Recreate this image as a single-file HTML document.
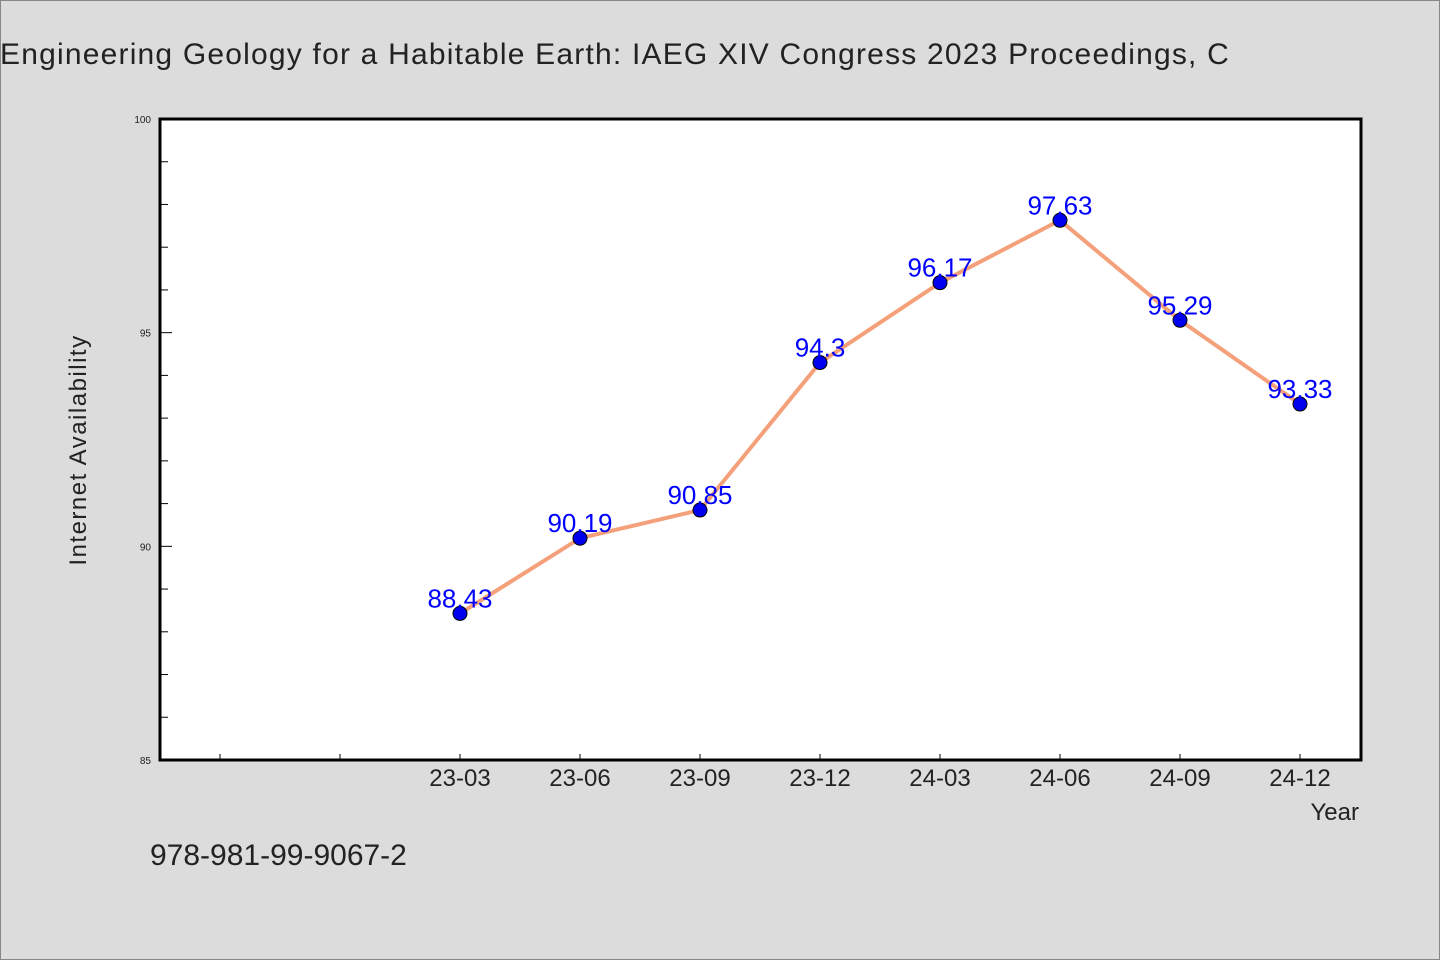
<!DOCTYPE html>
<html><head><meta charset="utf-8"><style>
body{margin:0;background:#dcdcdc;}
svg{display:block;font-family:"WenQuanYi Zen Hei","Liberation Sans",sans-serif;}
</style></head><body>
<svg id="chart" width="1440" height="960">
<rect x="0.5" y="0.5" width="1439" height="959" fill="#dcdcdc" stroke="#888"/>
<text x="0" y="64" font-size="30" fill="#222" letter-spacing="1.2">Engineering Geology for a Habitable Earth: IAEG XIV Congress 2023 Proceedings, C</text>
<rect x="160" y="119" width="1201" height="641" fill="#fff"/>
<g id="yticks"></g><g id="xticks"></g>
<rect x="160" y="119" width="1201" height="641" fill="none" stroke="#000" stroke-width="3"/>
<g id="series"></g>
<text transform="translate(86,450) rotate(-90)" text-anchor="middle" font-size="24" fill="#222" letter-spacing="1.5">Internet Availability</text>
<text x="1359" y="820" text-anchor="end" font-size="24" fill="#222">Year</text>
<text x="150" y="865" font-size="30" fill="#222">978-981-99-9067-2</text>
</svg>
<script>
const categories=["23-03","23-06","23-09","23-12","24-03","24-06","24-09","24-12"];
const values=[88.43,90.19,90.85,94.3,96.17,97.63,95.29,93.33];
const labels=["88.43","90.19","90.85","94.3","96.17","97.63","95.29","93.33"];
const yTicks=[85,90,95,100];
const NS="http://www.w3.org/2000/svg";
const y=v=>760-(v-85)/15*641;
const x=i=>460+120*i;
function mk(t,a,p){const e=document.createElementNS(NS,t);for(const k in a)e.setAttribute(k,a[k]);p.appendChild(e);return e;}
const yt=document.getElementById('yticks');
for(let v=86;v<100;v++){
 const l=mk('line',{x1:160,x2:v%5?168:172,y1:y(v),y2:y(v),stroke:'#000','stroke-width':1},yt);
 
 
}
yTicks.forEach(v=>{
 const t=mk('text',{x:151,y:y(v)+4,'text-anchor':'end','font-size':10,fill:'#222'},yt);
 t.textContent=v;
 
 
});
const xt=document.getElementById('xticks');
for(let i=-2;i<categories.length;i++){
 const l=mk('line',{x1:x(i),x2:x(i),y1:760,y2:754,stroke:'#000','stroke-width':1},xt);
 
 
}
categories.forEach((c,i)=>{
 const t=mk('text',{x:x(i),y:786,'text-anchor':'middle','font-size':24,fill:'#222'},xt);
 t.textContent=c;
 
 
});
const s=document.getElementById('series');
const pl=mk('polyline',{points:values.map((v,i)=>x(i)+','+y(v)).join(' '),fill:'none',stroke:'#f4a07a','stroke-width':4},s);


values.forEach((v,i)=>{
 const c=mk('circle',{cx:x(i),cy:y(v),r:7,fill:'#0000ee',stroke:'#000','stroke-width':1},s);
 
 
 const t=mk('text',{x:x(i),y:y(v)-6,'text-anchor':'middle','font-size':26,fill:'#0000ff'},s);
 t.textContent=labels[i];
 
 
});
</script>
</body></html>
